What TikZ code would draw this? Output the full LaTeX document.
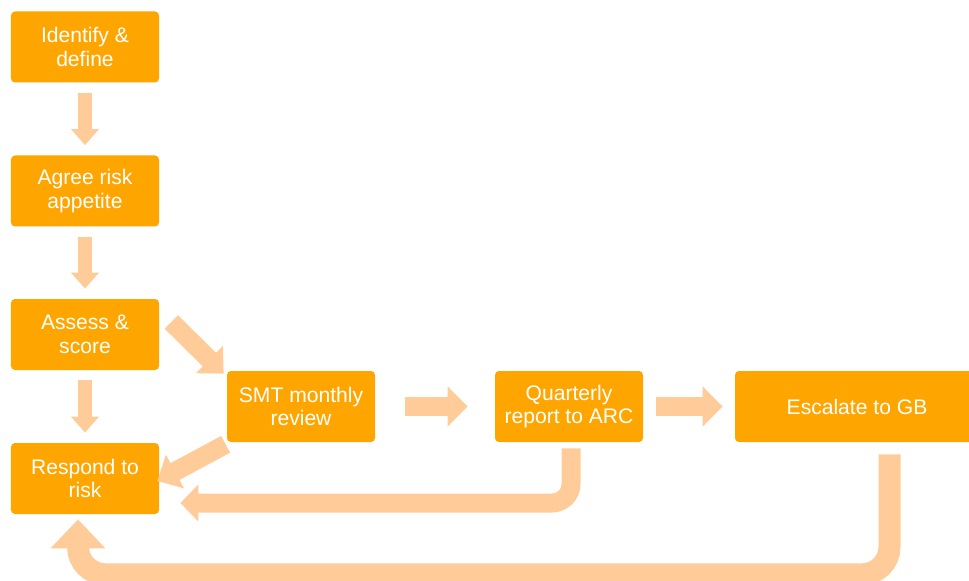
\documentclass[tikz,border=0pt]{standalone}
\usepackage{fontspec}
\setmainfont{Liberation Sans}
\usetikzlibrary{arrows.meta,calc}
\definecolor{boxorange}{HTML}{FFA500}
\definecolor{arrpeach}{HTML}{FFCC99}
\tikzset{
  stepbox/.style={rectangle,rounded corners=0.08cm,fill=boxorange,text=white,
    minimum width=2.96cm,minimum height=1.42cm,align=center,inner sep=2pt,
    font=\fontsize{12}{13.6}\selectfont},
  darr/.style={draw=arrpeach,line width=0.28cm,
    -{Triangle[length=0.32cm,width=0.54cm]},shorten <=0.2cm,shorten >=0.2cm},
  diagarr/.style={draw=arrpeach,line width=0.38cm,-{Triangle[length=0.4cm,width=0.74cm]}},
  harr/.style={draw=arrpeach,line width=0.38cm,-{Triangle[length=0.4cm,width=0.78cm]}},
  elbarr/.style={draw=arrpeach,line width=0.38cm,rounded corners=0.38cm,
    -{Triangle[length=0.36cm,width=0.72cm]}},          % back to respond
  looparr/.style={draw=arrpeach,line width=0.44cm,rounded corners=0.55cm,
    -{Triangle[length=0.58cm,width=1.06cm]}},          % long loop from GB
}

\begin{document}
\begin{tikzpicture}
  \useasboundingbox (0,0) rectangle (19.38,11.6);
  \node[stepbox] (ident) at (1.70,10.66) {Identify \&\\define};
  \node[stepbox] (agree) at (1.70,7.78) {Agree risk\\appetite};
  \node[stepbox] (assess) at (1.70,4.91) {Assess \&\\score};
  \node[stepbox] (respond) at (1.70,2.03) {Respond to\\risk};
  \node[stepbox] (smt) at (6.02,3.47) {SMT monthly\\review};
  \node[stepbox] (qrep) at (11.38,3.47) {Quarterly\\report to ARC};
  \node[stepbox,minimum width=4.88cm] (escal) at (17.14,3.47) {Escalate to GB};
  % left column
  \draw[darr] (ident) -- (agree);
  \draw[darr] (agree) -- (assess);
  \draw[darr] (assess) -- (respond);
  % diagonals
  \draw[diagarr] ([shift={(0.24,0.25)}]assess.east) -- ([shift={(-0.06,-0.06)}]smt.north west);
  \draw[diagarr] ([shift={(-0.02,-0.04)}]smt.south west) -- ([shift={(-0.04,-0.05)}]respond.east);
  % row
  \draw[harr,shorten <=0.6cm,shorten >=0.54cm] (smt) -- (qrep);
  \draw[harr,shorten <=0.26cm,shorten >=0.24cm] (qrep) -- (escal);
  % returns
  \draw[elbarr] ([xshift=0.04cm,yshift=-0.12cm]qrep.south) |- ([xshift=0.42cm,yshift=-0.49cm]respond.east);
  \draw[looparr] ([xshift=0.65cm,yshift=-0.24cm]escal.south) -- ++(0,-2.4)
    -| ([xshift=-0.14cm,yshift=-0.1cm]respond.south);
\end{tikzpicture}
\end{document}
